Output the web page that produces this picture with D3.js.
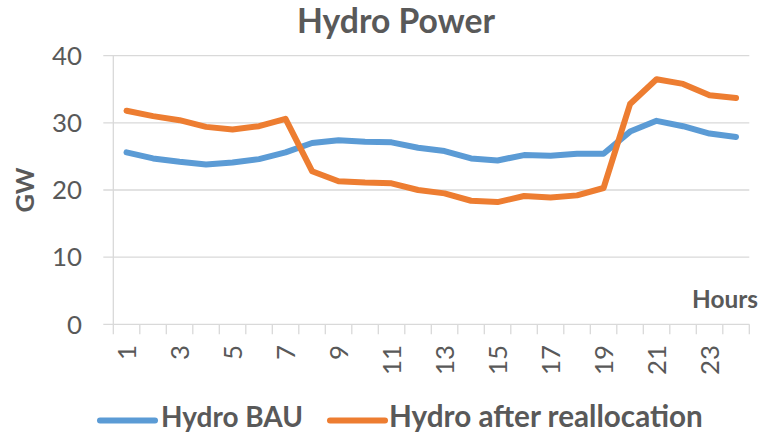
<!DOCTYPE html>
<html>
<head>
<meta charset="utf-8">
<script src="https://cdn.jsdelivr.net/npm/d3@7"></script>
<style>
  html, body { margin: 0; padding: 0; background: #fff; }
  svg { display: block; }
  text { font-family: Lato, "Open Sans", sans-serif; fill: #595959; }
</style>
</head>
<body>
<svg id="chart" width="761" height="436"></svg>
<script>
// ---- data ----
const hours = [1,2,3,4,5,6,7,8,9,10,11,12,13,14,15,16,17,18,19,20,21,22,23,24];
const hydroBAU = [25.6,24.7,24.2,23.8,24.1,24.6,25.6,27.0,27.4,27.2,27.1,26.3,25.8,24.7,24.4,25.2,25.1,25.4,25.4,28.7,30.3,29.5,28.4,27.9];
const hydroRealloc = [31.8,31.0,30.4,29.4,29.0,29.5,30.6,22.8,21.3,21.1,21.0,20.0,19.5,18.4,18.2,19.1,18.9,19.2,20.3,32.8,36.5,35.8,34.1,33.7];
const yTicks = [0,10,20,30,40];
const xTickLabels = [1,3,5,7,9,11,13,15,17,19,21,23];
const seriesNames = ["Hydro BAU", "Hydro after reallocation"];
const seriesColors = ["#5B9BD5", "#ED7D31"];
const titleText = "Hydro Power";
const yTitle = "GW";
const xTitle = "Hours";

// ---- layout ----
const svg = d3.select("#chart");
const L = 113.3, R = 749.3, T = 55.7, B = 324.3;
const grid = "#D9D9D9";

const x = d3.scaleBand().domain(hours).range([L, R]).paddingInner(0).paddingOuter(0);
const y = d3.scaleLinear().domain([0, 40]).range([B, T]);

function fit(sel, target) {
  const n = sel.node();
  const s = parseFloat(sel.attr("font-size"));
  const w = n.getComputedTextLength();
  sel.attr("font-size", (s * target / w).toFixed(2));
  return s * target / w;
}

// gridlines
svg.append("g").selectAll("line").data(yTicks).join("line")
  .attr("x1", L - 10).attr("x2", R)
  .attr("y1", d => y(d)).attr("y2", d => y(d))
  .attr("stroke", grid).attr("stroke-width", 1.3);

// vertical axis line
svg.append("line").attr("x1", L).attr("x2", L).attr("y1", T).attr("y2", B)
  .attr("stroke", grid).attr("stroke-width", 1.3);

// x axis ticks at category boundaries
const bounds = hours.map(h => x(h)).concat([R]);
svg.append("g").selectAll("line").data(bounds).join("line")
  .attr("x1", d => d).attr("x2", d => d)
  .attr("y1", B).attr("y2", B + 10)
  .attr("stroke", grid).attr("stroke-width", 1.3);

// measure tick font size
const probe = svg.append("text").attr("font-size", 30).text("40");
const tickSize = fit(probe, 30);
probe.remove();

// y tick labels
svg.append("g").selectAll("text").data(yTicks).join("text")
  .attr("x", 82).attr("y", d => y(d)).attr("dy", "0.36em")
  .attr("text-anchor", "end").attr("font-size", tickSize)
  .text(d => d);

// x tick labels rotated
svg.append("g").selectAll("text").data(xTickLabels).join("text")
  .attr("transform", d => `translate(${x(d) + x.bandwidth() / 2},345) rotate(-90)`)
  .attr("dy", "0.36em")
  .attr("text-anchor", "end").attr("font-size", tickSize)
  .text(d => d);

// lines
const line = d3.line().x((d, i) => x(hours[i]) + x.bandwidth() / 2).y(d => y(d));
[hydroBAU, hydroRealloc].forEach((s, k) => {
  svg.append("path").datum(s).attr("d", line)
    .attr("fill", "none").attr("stroke", seriesColors[k])
    .attr("stroke-width", 6).attr("stroke-linejoin", "round").attr("stroke-linecap", "round");
});

// title
const t = svg.append("text").attr("x", 396).attr("y", 33).attr("text-anchor", "middle")
  .attr("font-weight", "bold").attr("font-size", 30).text(titleText);
fit(t, 198);

// y title
const gw = svg.append("text").attr("transform", "translate(25,190) rotate(-90)")
  .attr("dy", "0.36em").attr("text-anchor", "middle")
  .attr("font-weight", "bold").attr("font-size", 28).text(yTitle);
fit(gw, 45);

// x title
const hr = svg.append("text").attr("x", 758).attr("y", 307.5).attr("text-anchor", "end")
  .attr("font-weight", "bold").attr("font-size", 24).text(xTitle);
fit(hr, 66);

// legend
const legX = [100, 330];
const legTextX = [161, 389];
const legW = [142, 314];
seriesNames.forEach((nm, k) => {
  svg.append("line").attr("x1", legX[k]).attr("x2", legX[k] + 55)
    .attr("y1", 420.5).attr("y2", 420.5)
    .attr("stroke", seriesColors[k]).attr("stroke-width", 6).attr("stroke-linecap", "round");
  const tx = svg.append("text").attr("x", legTextX[k]).attr("y", 427.3)
    .attr("font-weight", "bold").attr("font-size", 28).text(nm);
  fit(tx, legW[k]);
});
</script>
</body>
</html>
